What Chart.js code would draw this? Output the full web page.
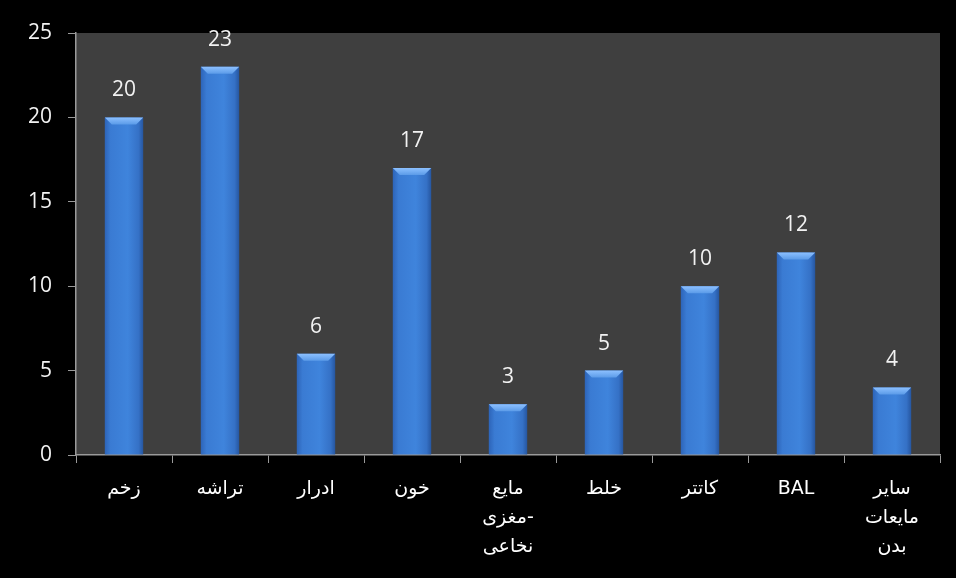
<!DOCTYPE html>
<html>
<head>
<meta charset="utf-8">
<script src="https://cdn.jsdelivr.net/npm/chart.js@4/dist/chart.umd.min.js"></script>
<style>
  html, body { margin: 0; padding: 0; background: #000; }
  #wrap { width: 956px; height: 578px; }
</style>
</head>
<body>
<div id="wrap"><canvas id="chart" width="956" height="578"></canvas></div>
<script>
const categories = [
    "زخم",
    "تراشه",
    "ادرار",
    "خون",
    ["مایع", "مغزی\u200E-", "نخاعی"],
    "خلط",
    "کاتتر",
    "BAL",
    ["سایر", "مایعات", "بدن"]
];
const counts = [20, 23, 6, 17, 3, 5, 10, 12, 4];
const yTicks = [0, 5, 10, 15, 20, 25];

// gray plot area behind the bars
const plotBg = {
    id: "plotBg",
    beforeDraw(chart) {
        const { ctx, chartArea } = chart;
        ctx.save();
        ctx.fillStyle = "#3f3f3f";
        ctx.fillRect(chartArea.left, chartArea.top, chartArea.right - chartArea.left, chartArea.bottom - chartArea.top);
        ctx.restore();
    }
};

// light bevel on top of each bar + value labels
const barDecor = {
    id: "barDecor",
    afterDatasetsDraw(chart) {
        const ctx = chart.ctx;
        const meta = chart.getDatasetMeta(0);
        meta.data.forEach((bar, i) => {
            const p = bar.getProps(["x", "y", "width", "base"], true);
            const l = p.x - p.width / 2, r = p.x + p.width / 2;
            const b = 7;
            ctx.save();
            const g = ctx.createLinearGradient(0, p.y, 0, p.y + b);
            g.addColorStop(0, "#8cc0ff");
            g.addColorStop(1, "#5b9be8");
            ctx.fillStyle = g;
            ctx.beginPath();
            ctx.moveTo(l, p.y);
            ctx.lineTo(r, p.y);
            ctx.lineTo(r - b, p.y + b);
            ctx.lineTo(l + b, p.y + b);
            ctx.closePath();
            ctx.fill();
            ctx.restore();

            ctx.save();
            ctx.fillStyle = "#f2f2f2";
            ctx.font = "21px 'Open Sans', 'DejaVu Sans', sans-serif";
            ctx.textAlign = "center";
            ctx.textBaseline = "middle";
            ctx.fillText(String(counts[i]), p.x, p.y - 27);
            ctx.restore();
        });
    }
};

function barFill(context) {
    const chart = context.chart;
    const bar = chart.getDatasetMeta(0).data[context.dataIndex];
    if (!bar || !Number.isFinite(bar.x) || !Number.isFinite(bar.width)) return "#3d7fd8";
    const w = bar.width;
    const g = chart.ctx.createLinearGradient(bar.x - w / 2, 0, bar.x + w / 2, 0);
    g.addColorStop(0, "#2d64b8");
    g.addColorStop(0.15, "#3a7bd3");
    g.addColorStop(0.6, "#3f84dc");
    g.addColorStop(0.88, "#3571c6");
    g.addColorStop(1, "#2656a0");
    return g;
}

const chart = new Chart(document.getElementById("chart"), {
    type: "bar",
    data: {
        labels: categories,
        datasets: [{
            data: counts,
            backgroundColor: barFill,
            borderWidth: 0,
            categoryPercentage: 1,
            barPercentage: 0.4
        }]
    },
    options: {
        responsive: false,
        animation: false,
        layout: { padding: { top: 33, right: 16, left: 0, bottom: 0 } },
        plugins: {
            legend: { display: false },
            tooltip: { enabled: false }
        },
        scales: {
            x: {
                afterFit(scale) { scale.height = 123; },
                grid: {
                    offset: true,
                    drawOnChartArea: false,
                    drawTicks: true,
                    tickLength: 8,
                    color: "#9a9a9a"
                },
                border: { display: true, color: "#9a9a9a", width: 1.5 },
                ticks: {
                    color: "#ffffff",
                    padding: 12,
                    maxRotation: 0,
                    autoSkip: false,
                    font: { family: "'DejaVu Sans', 'Liberation Sans', sans-serif", size: 19, lineHeight: 1.52 }
                }
            },
            y: {
                min: 0,
                max: 25,
                afterFit(scale) { scale.width = 76; },
                afterBuildTicks(scale) { scale.ticks = yTicks.map(v => ({ value: v })); },
                grid: {
                    drawOnChartArea: false,
                    drawTicks: true,
                    tickLength: 8,
                    color: "#9a9a9a"
                },
                border: { display: true, color: "#9a9a9a", width: 1.5 },
                ticks: {
                    color: "#f2f2f2",
                    padding: 16,
                    font: { family: "'Open Sans', 'Liberation Sans', sans-serif", size: 21 }
                }
            }
        }
    },
    plugins: [plotBg, barDecor]
});
// redraw so the per-bar gradients use final bar positions
chart.update();
</script>
</body>
</html>
